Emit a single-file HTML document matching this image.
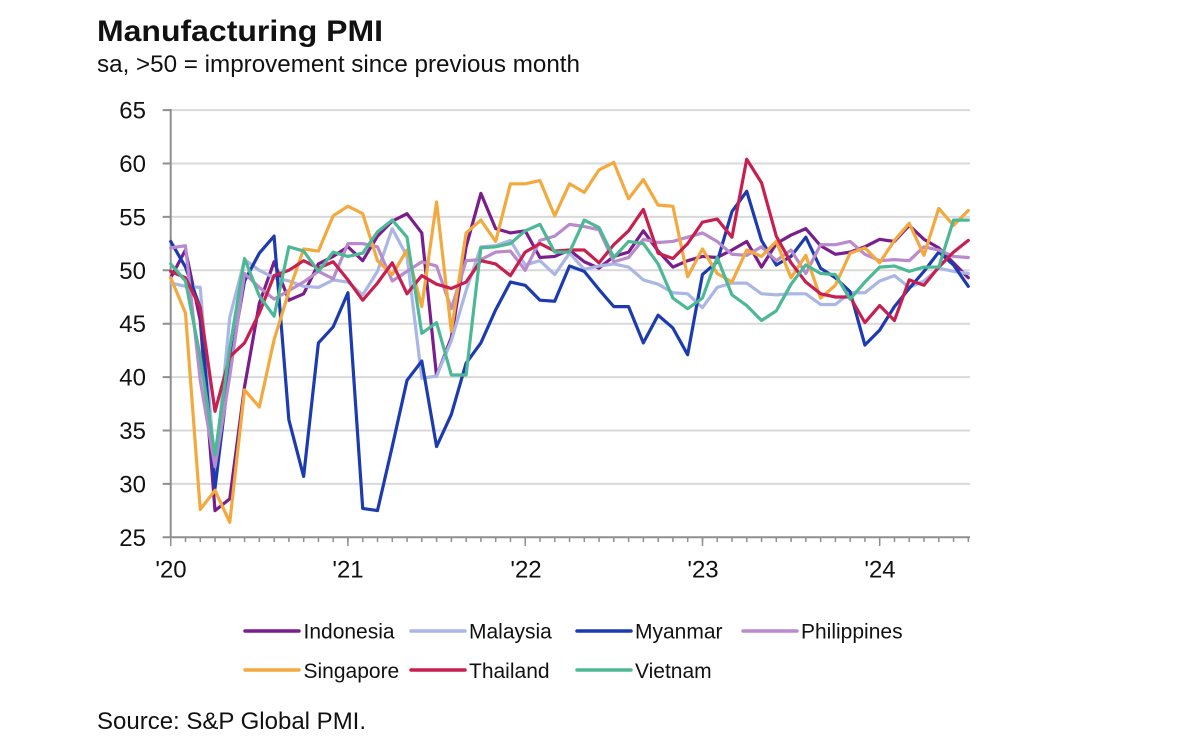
<!DOCTYPE html>
<html>
<head>
<meta charset="utf-8">
<style>
  html, body { margin: 0; padding: 0; background: #ffffff; }
  svg { display: block; }
  text { font-family: "Liberation Sans", Arial, sans-serif; fill: #111; }
</style>
</head>
<body>
<svg width="1200" height="745" viewBox="0 0 1200 745" xmlns="http://www.w3.org/2000/svg">
  <rect x="0" y="0" width="1200" height="745" fill="#ffffff"/>

  <text x="97" y="41" font-size="30" font-weight="bold" textLength="286" lengthAdjust="spacingAndGlyphs">Manufacturing PMI</text>
  <text x="97" y="72" font-size="24" textLength="483" lengthAdjust="spacingAndGlyphs">sa, &gt;50 = improvement since previous month</text>

  <path stroke="#d9d9d9" stroke-width="2" fill="none"
        d="M171 110.1H970 M171 163.5H970 M171 216.9H970 M171 270.3H970 M171 323.7H970 M171 377.1H970 M171 430.5H970 M171 483.9H970"/>

  <path stroke="#8f8f8f" stroke-width="2" fill="none"
        d="M170.7 109V538 M170 537.3H970 M162.7 110.1H170.7 M162.7 163.5H170.7 M162.7 216.9H170.7 M162.7 270.3H170.7 M162.7 323.7H170.7 M162.7 377.1H170.7 M162.7 430.5H170.7 M162.7 483.9H170.7 M162.7 537.3H170.7"/>

  <line x1="170" y1="539.5" x2="970" y2="539.5" stroke="#8f8f8f" stroke-width="5" stroke-dasharray="1.5 13.27"/>
  <path stroke="#8f8f8f" stroke-width="1.5" fill="none"
        d="M170.7 537V546 M347.9 537V546 M525.2 537V546 M702.5 537V546 M879.7 537V546"/>

  <g font-size="24" text-anchor="end">
    <text x="146" y="118.6">65</text>
    <text x="146" y="172.0">60</text>
    <text x="146" y="225.4">55</text>
    <text x="146" y="278.8">50</text>
    <text x="146" y="332.2">45</text>
    <text x="146" y="385.6">40</text>
    <text x="146" y="439.0">35</text>
    <text x="146" y="492.4">30</text>
    <text x="146" y="545.8">25</text>
  </g>

  <g font-size="24" text-anchor="middle">
    <text x="171" y="577.5">'20</text>
    <text x="348" y="577.5">'21</text>
    <text x="526" y="577.5">'22</text>
    <text x="703" y="577.5">'23</text>
    <text x="880" y="577.5">'24</text>
  </g>

  <g transform="matrix(14.77 0 0 -10.68 170.7 804.3)" fill="none" stroke-width="3.2" stroke-linejoin="round" stroke-linecap="round">
    <polyline vector-effect="non-scaling-stroke" stroke="#7a1e8c" points="0,49.3 1,51.9 2,45.3 3,27.5 4,28.6 5,39.1 6,46.9 7,50.8 8,47.2 9,47.8 10,50.6 11,51.3 12,52.2 13,50.9 14,53.2 15,54.6 16,55.3 17,53.5 18,40.1 19,43.7 20,52.2 21,57.2 22,53.9 23,53.5 24,53.7 25,51.2 26,51.3 27,51.9 28,50.8 29,50.2 30,51.3 31,51.7 32,53.7 33,51.8 34,50.3 35,50.9 36,51.3 37,51.2 38,51.9 39,52.7 40,50.3 41,52.5 42,53.3 43,53.9 44,52.3 45,51.5 46,51.7 47,52.2 48,52.9 49,52.7 50,54.2 51,52.9 52,52.1 53,50.7 54,49.3"/>
    <polyline vector-effect="non-scaling-stroke" stroke="#aab6e6" points="0,48.8 1,48.5 2,48.4 3,31.3 4,45.6 5,51.0 6,50.0 7,49.3 8,49.0 9,48.5 10,48.4 11,49.1 12,48.9 13,47.7 14,49.9 15,53.9 16,51.3 17,39.9 18,40.1 19,43.4 20,48.1 21,52.2 22,52.3 23,52.8 24,50.5 25,50.9 26,49.6 27,51.6 28,50.1 29,50.4 30,50.6 31,50.3 32,49.1 33,48.7 34,47.9 35,47.8 36,46.5 37,48.4 38,48.8 39,48.8 40,47.8 41,47.7 42,47.8 43,47.8 44,46.8 45,46.8 46,47.9 47,47.9 48,49.0 49,49.5 50,48.4 51,49.0 52,50.2 53,49.9 54,49.7"/>
    <polyline vector-effect="non-scaling-stroke" stroke="#1d3bb0" points="0,52.7 1,50.3 2,46.5 3,29.6 4,41 5,49 6,51.6 7,53.2 8,36.0 9,30.7 10,43.2 11,44.7 12,47.9 13,27.7 14,27.5 15,33.5 16,39.7 17,41.5 18,33.5 19,36.5 20,41.3 21,43.2 22,46.3 23,48.9 24,48.6 25,47.2 26,47.1 27,50.4 28,49.9 29,48.2 30,46.6 31,46.6 32,43.2 33,45.8 34,44.6 35,42.1 36,49.6 37,50.8 38,55.5 39,57.4 40,52.8 41,50.5 42,51.3 43,53.1 44,50.2 45,49.3 46,48.0 47,43.0 48,44.4 49,46.6 50,48.3 51,49.9 52,51.7 53,50.5 54,48.5"/>
    <polyline vector-effect="non-scaling-stroke" stroke="#b98acc" points="0,52.1 1,52.3 2,39.7 3,31.6 4,40.1 5,49.7 6,48.4 7,47.3 8,48.1 9,48.9 10,49.9 11,49.2 12,52.5 13,52.5 14,52.2 15,49.0 16,49.9 17,50.8 18,50.4 19,46.4 20,50.9 21,51.0 22,51.7 23,51.8 24,50.0 25,52.8 26,53.2 27,54.3 28,54.1 29,53.8 30,50.8 31,51.2 32,52.9 33,52.6 34,52.7 35,53.1 36,53.5 37,52.7 38,51.5 39,51.4 40,52.2 41,50.9 42,51.9 43,49.7 44,52.4 45,52.4 46,52.7 47,51.5 48,50.9 49,51.0 50,50.9 51,52.2 52,51.9 53,51.3 54,51.2"/>
    <polyline vector-effect="non-scaling-stroke" stroke="#f4a93e" points="0,49.3 1,46.0 2,27.6 3,29.4 4,26.4 5,38.8 6,37.2 7,43.5 8,48.0 9,52.0 10,51.8 11,55.1 12,56.0 13,55.3 14,50.9 15,49.6 16,51.9 17,46.6 18,56.4 19,44.3 20,53.5 21,54.7 22,52.7 23,58.1 24,58.1 25,58.4 26,55.1 27,58.1 28,57.3 29,59.4 30,60.1 31,56.7 32,58.5 33,56.1 34,56.0 35,49.4 36,52.0 37,49.7 38,48.9 39,51.9 40,51.3 41,52.7 42,49.3 43,51.4 44,47.4 45,48.6 46,51.6 47,52.1 48,50.7 49,52.8 50,54.4 51,51.4 52,55.8 53,54.2 54,55.6"/>
    <polyline vector-effect="non-scaling-stroke" stroke="#c71f4f" points="0,49.9 1,49.3 2,46.5 3,36.8 4,41.9 5,43.2 6,46.0 7,49.5 8,50.0 9,50.9 10,50.2 11,50.8 12,49.1 13,47.2 14,48.8 15,50.7 16,47.8 17,49.5 18,48.7 19,48.3 20,48.9 21,50.9 22,50.6 23,49.5 24,51.7 25,52.5 26,51.8 27,51.9 28,51.9 29,50.7 30,52.4 31,53.7 32,55.7 33,51.6 34,51.1 35,52.5 36,54.5 37,54.8 38,53.1 39,60.4 40,58.2 41,53.2 42,50.7 43,48.9 44,47.8 45,47.5 46,47.5 47,45.1 48,46.7 49,45.3 50,49.1 51,48.6 52,50.3 53,51.7 54,52.8"/>
    <polyline vector-effect="non-scaling-stroke" stroke="#4db896" points="0,50.6 1,49.0 2,41.9 3,32.7 4,42.7 5,51.1 6,47.6 7,45.7 8,52.2 9,51.8 10,49.9 11,51.7 12,51.3 13,51.6 14,53.6 15,54.7 16,53.1 17,44.1 18,45.1 19,40.2 20,40.2 21,52.1 22,52.2 23,52.5 24,53.7 25,54.3 26,51.7 27,51.7 28,54.7 29,54.0 30,51.2 31,52.7 32,52.5 33,50.6 34,47.4 35,46.4 36,47.4 37,51.2 38,47.7 39,46.7 40,45.3 41,46.2 42,48.7 43,50.5 44,49.7 45,49.6 46,47.3 47,48.9 48,50.3 49,50.4 50,49.9 51,50.3 52,50.3 53,54.7 54,54.7"/>
  </g>

  <g stroke-width="3.5" stroke-linecap="round">
    <line x1="245" y1="631" x2="299" y2="631" stroke="#7a1e8c"/>
    <line x1="411" y1="631" x2="465" y2="631" stroke="#aab6e6"/>
    <line x1="577" y1="631" x2="631" y2="631" stroke="#1d3bb0"/>
    <line x1="743" y1="631" x2="797" y2="631" stroke="#b98acc"/>
    <line x1="245" y1="670" x2="299" y2="670" stroke="#f4a93e"/>
    <line x1="411" y1="670" x2="465" y2="670" stroke="#c71f4f"/>
    <line x1="577" y1="670" x2="631" y2="670" stroke="#4db896"/>
  </g>
  <g font-size="21">
    <text x="303.5" y="638.5">Indonesia</text>
    <text x="469" y="638.5">Malaysia</text>
    <text x="635" y="638.5">Myanmar</text>
    <text x="801" y="638.5">Philippines</text>
    <text x="303.5" y="678">Singapore</text>
    <text x="469" y="678">Thailand</text>
    <text x="635" y="678">Vietnam</text>
  </g>

  <text x="97" y="729" font-size="24">Source: S&amp;P Global PMI.</text>
</svg>
</body>
</html>
